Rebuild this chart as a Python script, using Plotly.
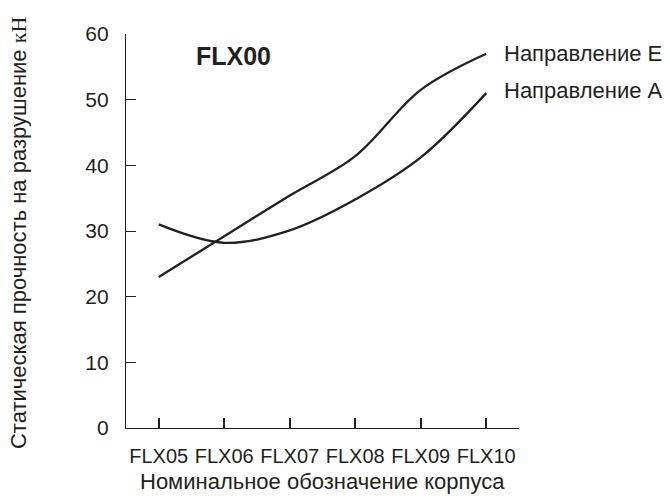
import plotly.graph_objects as go

categories = ["FLX05", "FLX06", "FLX07", "FLX08", "FLX09", "FLX10"]
dir_e = [23, 29.2, 35.4, 41.4, 51.5, 57]
dir_a = [31, 28.2, 30.1, 34.8, 41.2, 51]
series_names = ["Направление E", "Направление A"]
y_ticks = [0, 10, 20, 30, 40, 50, 60]

INK = "#231f20"
FONT = "Liberation Sans, Arial, sans-serif"

fig = go.Figure()
for name, vals in zip(series_names, [dir_e, dir_a]):
    fig.add_trace(go.Scatter(
        x=categories, y=vals, mode="lines", name=name,
        line=dict(color=INK, width=2.3, shape="spline", smoothing=1.0),
        showlegend=False, hoverinfo="skip",
    ))

# series labels at line ends
for name, vals, ys in zip(series_names, [dir_e, dir_a], [0, 3]):
    fig.add_annotation(
        x=categories[-1], y=vals[-1], xref="x", yref="y",
        text=name, showarrow=False, xanchor="left", yanchor="middle",
        xshift=16, yshift=ys,
        font=dict(family=FONT, size=22, color=INK),
    )

# chart label
fig.add_annotation(
    x=0.2735, y=0.944, xref="paper", yref="paper", text="<b>FLX00</b>",
    showarrow=False, xanchor="center", yanchor="middle",
    font=dict(family=FONT, size=25, color=INK),
)

# axis titles
fig.add_annotation(
    x=-0.272, y=0.495, xref="paper", yref="paper",
    text="Статическая прочность на разрушение <span style='font-family:Liberation Serif, serif'>кН</span>",
    textangle=-90, showarrow=False, xanchor="center", yanchor="middle",
    font=dict(family=FONT, size=22, color=INK),
)
fig.add_annotation(
    x=0.5, y=-0.137, xref="paper", yref="paper",
    text="Номинальное обозначение корпуса",
    showarrow=False, xanchor="center", yanchor="middle",
    font=dict(family=FONT, size=22, color=INK),
)

fig.update_layout(
    width=670, height=501,
    margin=dict(l=126, r=151, t=34, b=73),
    paper_bgcolor="white", plot_bgcolor="white",
    font=dict(family=FONT, color=INK),
)
fig.update_xaxes(
    type="category", range=[-0.5, 5.5],
    showline=True, linecolor=INK, linewidth=1.3,
    ticks="inside", ticklen=10, tickwidth=1.5, tickcolor=INK,
    showgrid=False, zeroline=False,
    tickfont=dict(family=FONT, size=20, color=INK),
    ticklabelstandoff=10,
)
fig.update_yaxes(
    range=[0, 60], tickvals=y_ticks,
    showline=True, linecolor=INK, linewidth=1.3,
    ticks="inside", ticklen=10, tickwidth=1.3, tickcolor=INK,
    showgrid=False, zeroline=False,
    tickfont=dict(family=FONT, size=21, color=INK),
    ticklabelstandoff=12,
)

fig.write_html(
    "out.html",
    config={"displayModeBar": False},
    post_script="document.body.style.margin='0';document.body.style.padding='0';",
)
